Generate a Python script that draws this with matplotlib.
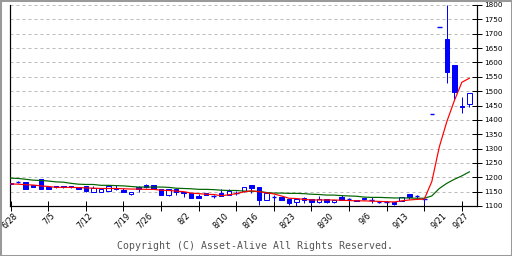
import matplotlib
matplotlib.use("Agg")
import matplotlib.pyplot as plt
from matplotlib.patches import Rectangle
import matplotlib.transforms as mtransforms

# trading-day index 0..61 (2021-06-28 .. 2021-09-28)
opens  = [1179,1184,1182,1172,1193,1167,1170,1169,1169,1165,1170,1150,1150,1153,1162,1156,1141,1167,1174,1172,
          1158,1137,1159,1149,1144,1136,1144,1134,1146,1139,1146,1151,1173,1165,1121,1131,1132,1125,1113,1121,
          1123,1113,1123,1113,1133,1124,1121,1128,1121,1116,1115,1115,1118,1142,1134,1124,1422,1722,1681,1591,
          1448,1455]
highs  = [1180,1187,1184,1173,1194,1168,1170,1170,1170,1166,1170,1170,1160,1172,1173,1161,1149,1168,1176,1173,
          1159,1159,1161,1150,1145,1141,1145,1139,1158,1158,1152,1166,1174,1166,1145,1138,1133,1126,1124,1130,
          1124,1134,1124,1122,1137,1128,1122,1129,1130,1117,1116,1115,1131,1143,1139,1127,1422,1722,1799,1591,
          1481,1492]
lows   = [1176,1180,1158,1166,1158,1158,1164,1164,1164,1158,1149,1150,1149,1152,1156,1148,1140,1149,1164,1158,
          1138,1136,1140,1132,1128,1128,1137,1129,1134,1138,1140,1150,1144,1102,1120,1118,1120,1105,1101,1109,
          1108,1112,1112,1112,1120,1114,1117,1122,1109,1109,1113,1104,1117,1124,1128,1106,1422,1722,1529,1471,
          1423,1444]
closes = [1177,1183,1159,1167,1159,1159,1165,1165,1165,1160,1153,1161,1159,1171,1160,1149,1148,1159,1165,1159,
          1139,1158,1149,1144,1129,1129,1138,1133,1135,1151,1145,1165,1163,1121,1144,1130,1121,1109,1123,1129,
          1113,1124,1113,1121,1121,1123,1119,1123,1120,1115,1114,1107,1130,1132,1133,1123,1422,1722,1568,1498,
          1445,1492]
ma5    = [1177,1176,1174,1173,1170,1168,1165,1165,1165,1164,1163,1162,1161,1161,1161,1160,1159,1159,1158,1158,
          1155,1154,1152,1150,1145,1143,1141,1140,1136,1139,1143,1149,1153,1150,1146,1142,1135,1127,1126,1123,
          1121,1121,1121,1121,1120,1119,1118,1118,1117,1116,1115,1114,1118,1121,1123,1124,1185,1306,1394,1467,
          1531,1545]
ma25   = [1197,1196,1193,1190,1189,1187,1184,1183,1179,1176,1175,1175,1172,1172,1171,1170,1168,1166,1166,1166,
          1166,1165,1162,1161,1160,1158,1158,1157,1155,1154,1154,1152,1151,1151,1147,1145,1145,1144,1144,1143,
          1141,1140,1138,1138,1136,1135,1134,1131,1130,1130,1129,1128,1128,1128,1127,1127,1135,1161,1179,1193,
          1205,1219]
date_labels = ["6/28","7/5","7/12","7/19","7/26","8/2","8/10","8/16","8/23","8/30","9/6","9/13","9/21","9/27"]
date_index  = [0,5,10,15,18,23,28,32,37,42,47,52,57,60]
y_ticks = list(range(1100, 1801, 50))

BLUE = "#0000FF"
PX = 0.72  # one pixel in points at dpi 100

fig = plt.figure(figsize=(5.12, 2.56), dpi=100)
fig.patch.set_facecolor("white")
ax = fig.add_axes([10.3/512, 50/256, (476.7-10.3)/512, 201/256])
ax.set_facecolor("white")

# grid
for v in y_ticks[1:]:
    ax.axhline(v, color="#BBBBBB", lw=PX, ls=(0, (3, 3)), zorder=0)

n = len(closes)
w = 0.6
for i in range(n):
    o, h, l, c = opens[i], highs[i], lows[i], closes[i]
    ax.vlines(i, l, h, color=BLUE, lw=PX, zorder=2)
    lo, hi = min(o, c), max(o, c)
    if hi - lo < 1.5:
        ax.hlines((o + c) / 2, i - w/2, i + w/2, color=BLUE, lw=PX*1.4, zorder=3)
    else:
        face = BLUE if c < o else "white"
        ax.add_patch(Rectangle((i - w/2, lo), w, hi - lo, facecolor=face,
                               edgecolor=BLUE, lw=PX, zorder=3))

xs = list(range(n))
ax.plot(xs, ma25, color="#006400", lw=PX*1.2, zorder=4)
ax.plot(xs, ma5, color="#FF0000", lw=PX*1.2, zorder=4)

ax.set_xlim(-0.05, 61.97)
ax.set_ylim(1100, 1800)

ax.spines["top"].set_visible(False)
for s in ["left", "right", "bottom"]:
    ax.spines[s].set_color("black")
    ax.spines[s].set_linewidth(PX*1.2)

ax.yaxis.tick_right()
ax.set_yticks(y_ticks)
ax.set_yticklabels([str(v) for v in y_ticks], fontsize=5.2, family="DejaVu Sans")
ax.tick_params(axis="y", direction="inout", length=7, width=PX, pad=2)
ax.set_xticks(range(0, 62, 5))
ax.set_xticklabels([])
ax.tick_params(axis="x", direction="inout", length=7, width=PX)

trans = mtransforms.blended_transform_factory(ax.transData, ax.transAxes)
for lab, idx in zip(date_labels, date_index):
    t = trans + mtransforms.ScaledTranslation(8.5/100, -5/100, fig.dpi_scale_trans)
    ax.text(idx, 0, lab, transform=t, rotation=45, ha="right", va="top",
            fontsize=5.8, family="DejaVu Sans", color="black", clip_on=False)

fig.text(255/512, 10/256, "Copyright (C) Asset-Alive All Rights Reserved.",
         ha="center", va="center", fontsize=7.1, family="DejaVu Sans Mono", color="#555555")

fig.add_artist(Rectangle((0, 0), 1, 1, transform=fig.transFigure, fill=False,
                         edgecolor="#999999", lw=2.2))

fig.savefig("out.png", dpi=100)
